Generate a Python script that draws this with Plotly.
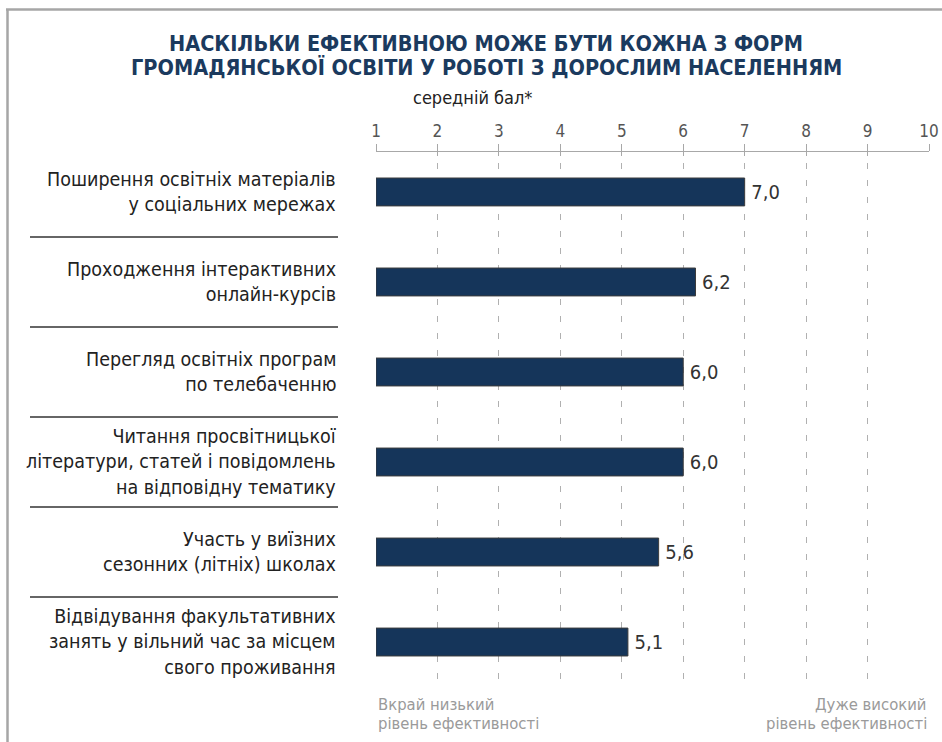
import plotly.graph_objects as go

categories = [
    "Поширення освітніх матеріалів<br>у соціальних мережах",
    "Проходження інтерактивних<br>онлайн-курсів",
    "Перегляд освітніх програм<br>по телебаченню",
    "Читання просвітницької<br>літератури, статей і повідомлень<br>на відповідну тематику",
    "Участь у виїзних<br>сезонних (літніх) школах",
    "Відвідування факультативних<br>занять у вільний час за місцем<br>свого проживання",
]
values = [7.0, 6.2, 6.0, 6.0, 5.6, 5.1]
tick_values = [1, 2, 3, 4, 5, 6, 7, 8, 9, 10]
scale_min = 1
scale_max = 10

title_lines = [
    "НАСКІЛЬКИ ЕФЕКТИВНОЮ МОЖЕ БУТИ КОЖНА З ФОРМ",
    "ГРОМАДЯНСЬКОЇ ОСВІТИ У РОБОТІ З ДОРОСЛИМ НАСЕЛЕННЯМ",
]
subtitle = "середній бал*"
low_label_lines = ["Вкрай низький", "рівень ефективності"]
high_label_lines = ["Дуже високий", "рівень ефективності"]

W, H = 942, 742
PLOT_LEFT, PLOT_RIGHT, PLOT_TOP, PLOT_BOTTOM = 376, 929, 152, 690  # page px
L, T = PLOT_LEFT, PLOT_TOP
R, B = W - PLOT_RIGHT, H - PLOT_BOTTOM
PW, PH = W - L - R, H - T - B

def px_x(px):
    return (px - L) / PW

def px_y(py):
    return (H - B - py) / PH

FONT = "DejaVu Sans Condensed, Roboto, sans-serif"
NAVY = "#15355a"

idx = list(range(len(categories)))

fig = go.Figure()
fig.add_trace(go.Bar(
    y=idx,
    x=[v - scale_min for v in values],
    base=[scale_min] * len(values),
    orientation="h",
    marker=dict(color=NAVY, line=dict(color="#3c3c3c", width=1)),
    text=[f"{v:.1f}".replace(".", ",") for v in values],
    texttemplate="\u2009%{text}",
    textposition="outside",
    textfont=dict(family=FONT, size=20, color="#333333"),
    cliponaxis=False,
    width=0.31,
    hoverinfo="skip",
))

fig.add_trace(go.Scatter(x=[scale_min, scale_max], y=[0, 0], xaxis="x2",
                         mode="markers", marker=dict(opacity=0), hoverinfo="skip",
                         showlegend=False))

fig.update_layout(
    width=W, height=H,
    margin=dict(l=L, r=R, t=T, b=B, autoexpand=False),
    paper_bgcolor="white", plot_bgcolor="white",
    showlegend=False,
    xaxis=dict(
        range=[scale_min, scale_max],
        side="top",
        automargin=False,
        tickvals=tick_values,
        ticktext=[str(t) for t in tick_values],
        tickfont=dict(family=FONT, size=17, color="#555555"),
        showline=True, linecolor="#a8a8a8", linewidth=1.5,
        ticks="outside", ticklen=7, tickcolor="#a8a8a8", tickwidth=1,
        showgrid=True, gridcolor="#b0b0b0", gridwidth=1,
        griddash="0px,11px,6px,0px",
        zeroline=False, fixedrange=True,
    ),
    xaxis2=dict(
        range=[scale_min, scale_max], overlaying="x", side="top",
        automargin=False,
        tickvals=tick_values, showticklabels=False,
        ticks="inside", ticklen=4, tickcolor="#a8a8a8", tickwidth=1,
        showline=False, showgrid=False, zeroline=False,
    ),
    yaxis=dict(
        range=[5.533, -0.444],
        automargin=False,
        showticklabels=False, showgrid=False, zeroline=False,
        showline=False, ticks="",
    ),
)

annotations = []
label_x = px_x(338)
for i, c in enumerate(categories):
    annotations.append(dict(
        x=label_x, y=i, xref="paper", yref="y", text=c,
        showarrow=False, xanchor="right", yanchor="middle", align="right",
        font=dict(family=FONT, size=19.5, color="#222222"),
    ))

title_y = [43, 67]
for line, py in zip(title_lines, title_y):
    annotations.append(dict(
        x=px_x(486), y=px_y(py), xref="paper", yref="paper", text=f"<b>{line}</b>",
        showarrow=False, xanchor="center", yanchor="middle",
        font=dict(family=FONT, size=21.5, color="#1b3a5e"),
    ))
annotations.append(dict(
    x=px_x(472), y=px_y(97), xref="paper", yref="paper", text=subtitle,
    showarrow=False, xanchor="center", yanchor="middle",
    font=dict(family=FONT, size=18, color="#222222"),
))
bottom_y = [704, 723]
for line, py in zip(low_label_lines, bottom_y):
    annotations.append(dict(
        x=0, y=px_y(py), xref="paper", yref="paper", text=line,
        showarrow=False, xanchor="left", yanchor="middle", align="left",
        font=dict(family=FONT, size=16.5, color="#9a9a9a"),
    ))
for line, py in zip(high_label_lines, bottom_y):
    annotations.append(dict(
        x=1, y=px_y(py), xref="paper", yref="paper", text=line,
        showarrow=False, xanchor="right", yanchor="middle", align="right",
        font=dict(family=FONT, size=16.5, color="#9a9a9a"),
    ))

shapes = []
for i in range(len(categories) - 1):
    shapes.append(dict(
        type="line", xref="paper", yref="y",
        x0=px_x(30), x1=px_x(338), y0=i + 0.5, y1=i + 0.5,
        line=dict(color="#333333", width=1.5),
    ))
# frame
shapes.append(dict(type="line", xref="paper", yref="paper",
                   x0=px_x(6), x1=px_x(W), y0=px_y(9.5), y1=px_y(9.5),
                   line=dict(color="#a6a6a6", width=2.5)))
shapes.append(dict(type="line", xref="paper", yref="paper",
                   x0=px_x(7.5), x1=px_x(7.5), y0=px_y(9), y1=px_y(H),
                   line=dict(color="#a6a6a6", width=2.5)))

fig.update_layout(annotations=annotations, shapes=shapes)

fig.write_html(
    "out.html",
    config={"displayModeBar": False, "staticPlot": True},
    post_script="document.body.style.margin='0';"
                "document.documentElement.style.overflow='hidden';",
)
